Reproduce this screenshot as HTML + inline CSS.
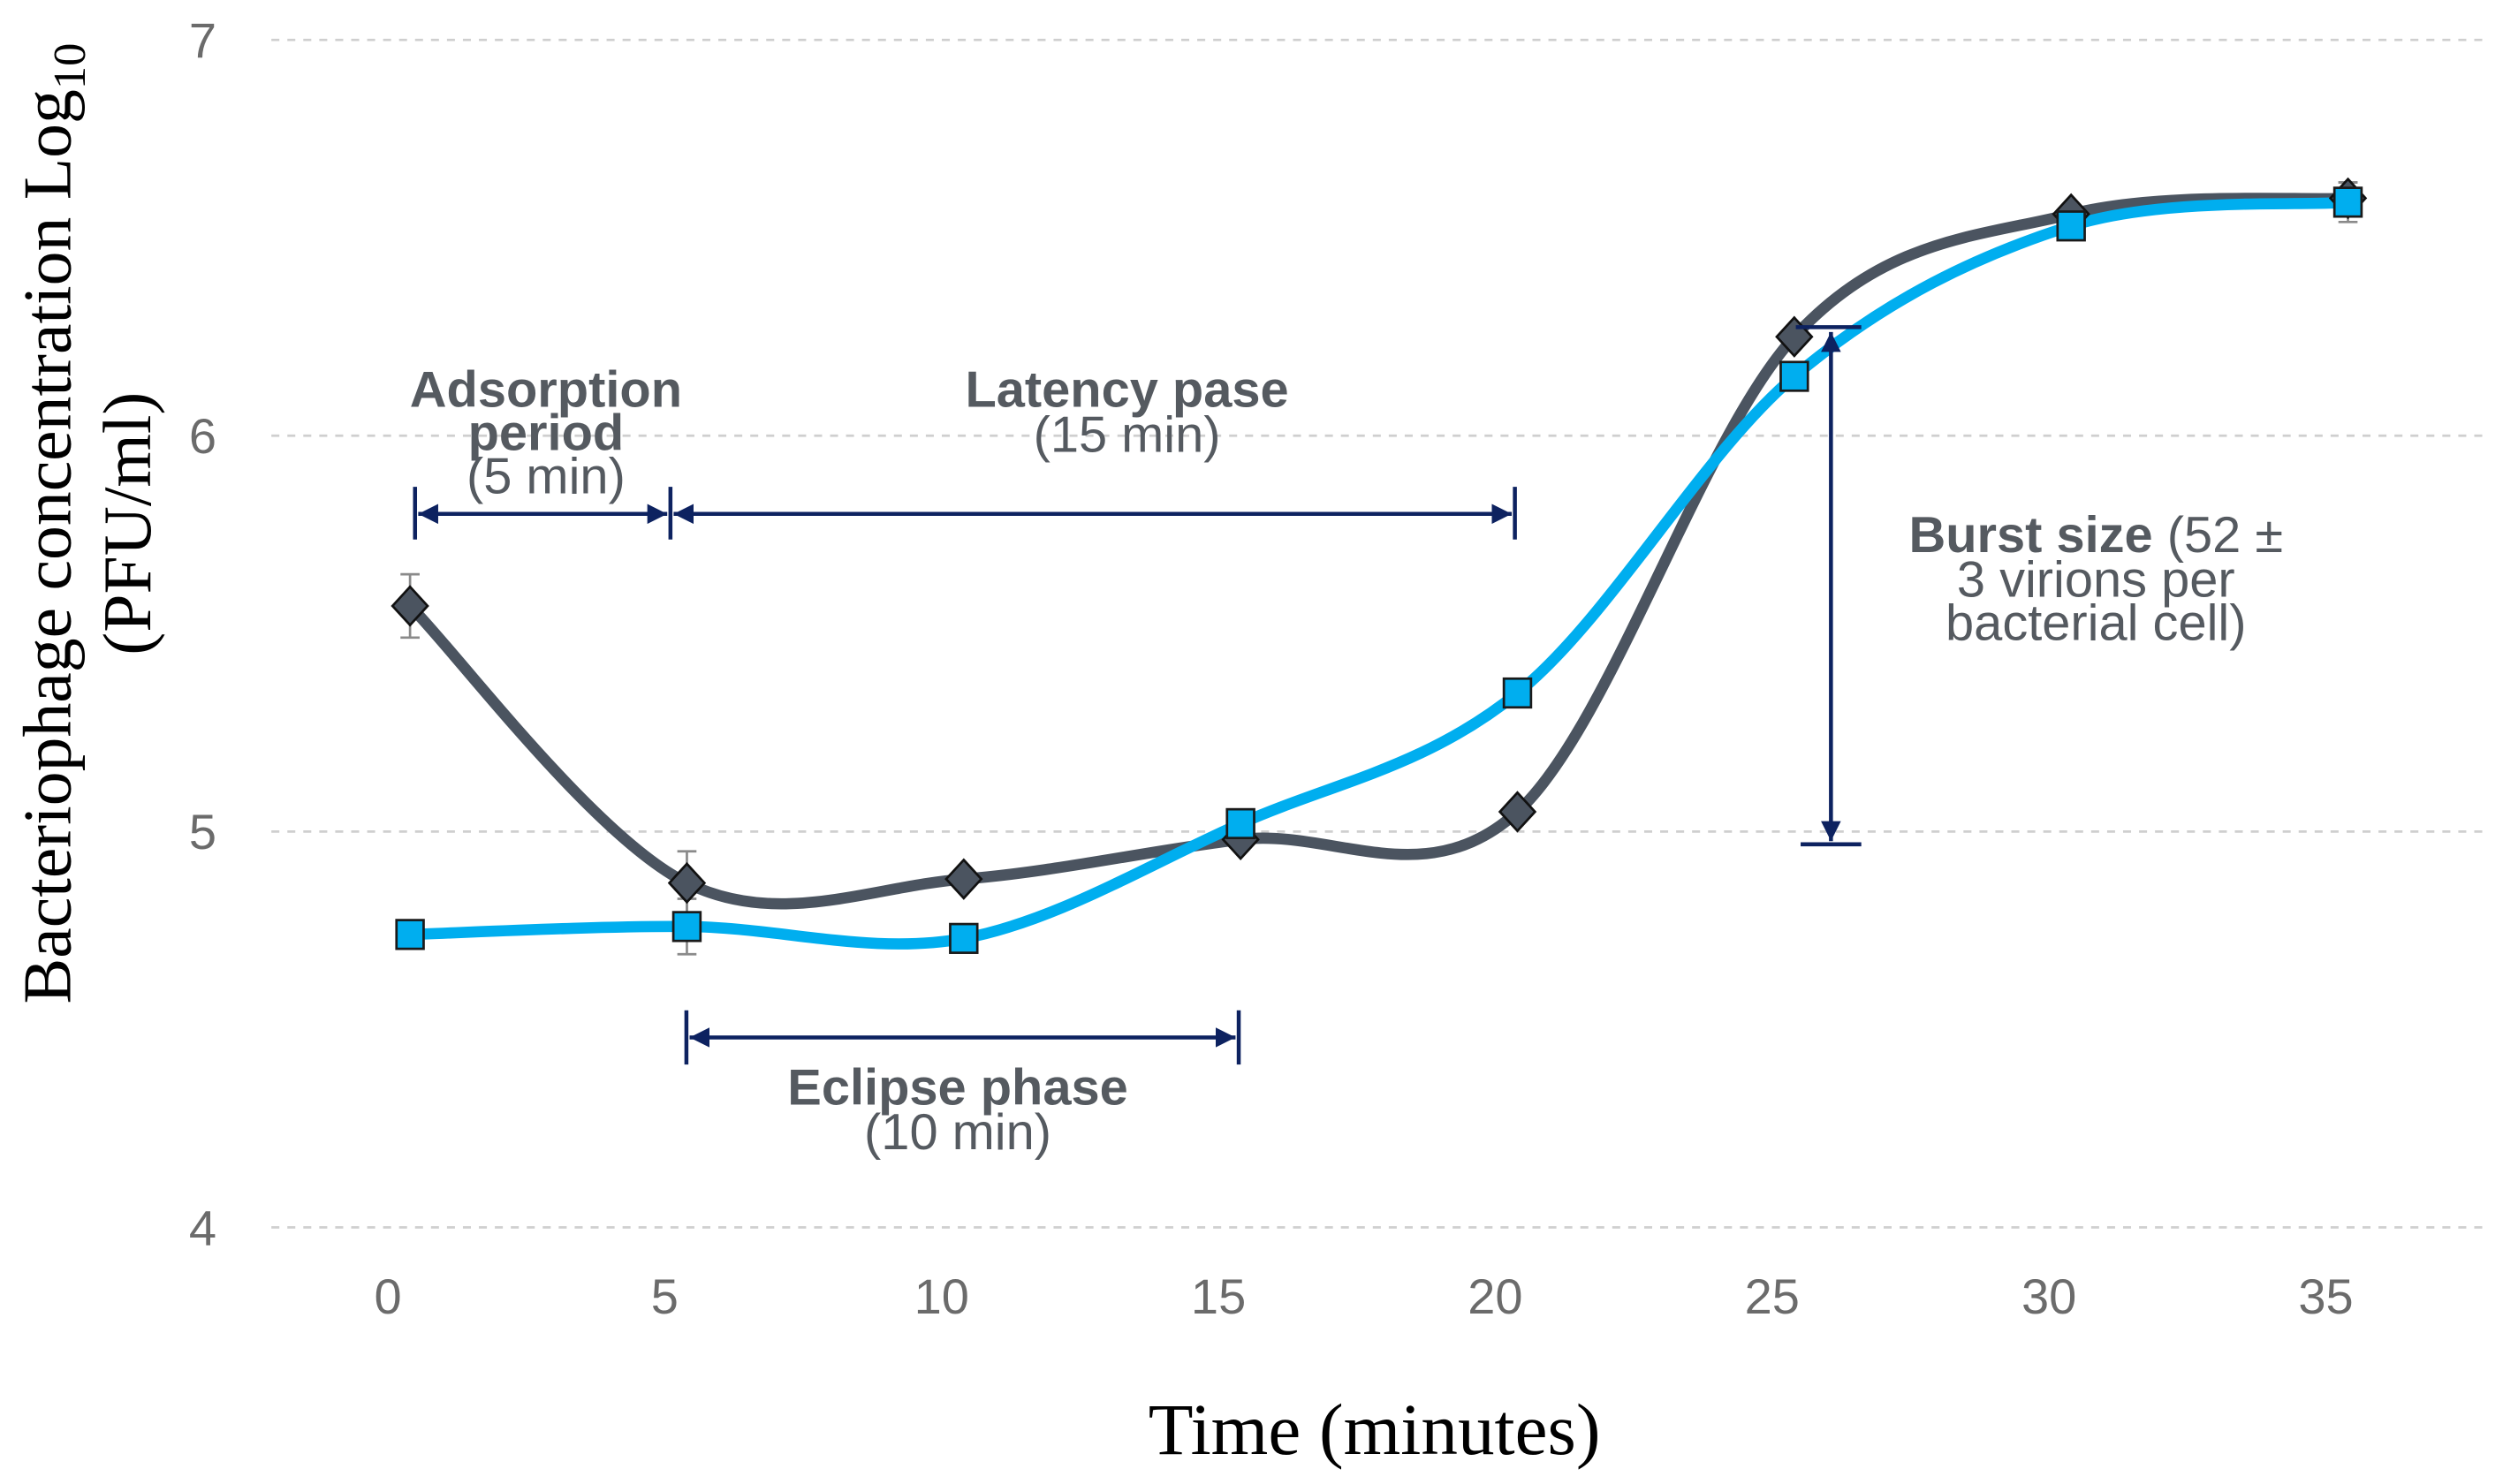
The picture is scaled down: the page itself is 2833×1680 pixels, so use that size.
<!DOCTYPE html>
<html><head><meta charset="utf-8"><style>
html,body{margin:0;padding:0;background:#fff;}
svg{display:block;}
.tick{font-family:"Liberation Sans",sans-serif;font-size:31px;fill:#6b6b6b;}
.ann{font-family:"Liberation Sans",sans-serif;font-size:32px;fill:#555a60;}
.ttl{font-family:"Liberation Serif",serif;fill:#000;}
</style></head><body>
<svg id="chart" width="2833" height="1680" viewBox="0 0 1568 929.8" preserveAspectRatio="none" xmlns="http://www.w3.org/2000/svg">
<defs>
<marker id="ah" viewBox="0 0 10 10" refX="10" refY="5" markerWidth="5" markerHeight="5" orient="auto-start-reverse"><path d="M0,0L10,5L0,10z" fill="#0d2260"/></marker>
</defs>
<g id="grid"></g>
<g id="yticks"></g>
<g id="xticks"></g>
<g>
<text class="ttl" transform="translate(44,328) rotate(-90)" text-anchor="middle" font-size="43">Bacteriophage concentration Log<tspan font-size="29" dy="9">10</tspan></text>
<text class="ttl" transform="translate(94,328) rotate(-90)" text-anchor="middle" font-size="43">(PFU/ml)</text>
</g>
<text class="ttl" x="861" y="911" text-anchor="middle" font-size="46">Time (minutes)</text>
<g id="series"></g>
<g stroke="#0d2260" stroke-width="2.5" fill="none">
<line x1="260" y1="305" x2="260" y2="338"/><line x1="420" y1="305" x2="420" y2="338"/><line x1="949" y1="305" x2="949" y2="338"/>
<line x1="262" y1="322" x2="418" y2="322" marker-start="url(#ah)" marker-end="url(#ah)"/>
<line x1="422" y1="322" x2="947" y2="322" marker-start="url(#ah)" marker-end="url(#ah)"/>
<line x1="430" y1="633" x2="430" y2="667"/><line x1="776" y1="633" x2="776" y2="667"/>
<line x1="432" y1="650" x2="774" y2="650" marker-start="url(#ah)" marker-end="url(#ah)"/>
<line x1="1125" y1="205" x2="1166" y2="205"/><line x1="1128" y1="529" x2="1166" y2="529"/>
<line x1="1147" y1="208" x2="1147" y2="527" marker-start="url(#ah)" marker-end="url(#ah)"/>
</g>
<g>
<text class="ann" x="342" y="255" text-anchor="middle" font-weight="bold">Adsorption</text>
<text class="ann" x="342" y="282" text-anchor="middle" font-weight="bold">period</text>
<text class="ann" x="342" y="309" text-anchor="middle">(5 min)</text>
<text class="ann" x="706" y="255" text-anchor="middle" font-weight="bold">Latency pase</text>
<text class="ann" x="706" y="283" text-anchor="middle">(15 min)</text>
<text class="ann" x="600" y="692" text-anchor="middle" font-weight="bold">Eclipse phase</text>
<text class="ann" x="600" y="720" text-anchor="middle">(10 min)</text>
<text class="ann" x="1313" y="346" text-anchor="middle"><tspan font-weight="bold">Burst size</tspan> (52 ±</text>
<text class="ann" x="1313" y="374" text-anchor="middle">3 virions per</text>
<text class="ann" x="1313" y="401" text-anchor="middle">bacterial cell)</text>
</g>
</svg>
<script>
const times=[0.4,5.4,10.4,15.4,20.4,25.4,30.4,35.4];
const darkVals=[5.57,4.87,4.88,4.98,5.05,6.25,6.56,6.60];
const blueVals=[4.74,4.76,4.73,5.02,5.35,6.15,6.53,6.59];
const darkErr=[0.08,0.08,0,0,0,0,0,0.04];
const blueErr=[0,0.07,0,0,0,0,0,0.05];
const yTicks=[4,5,6,7];
const xTicks=[0,5,10,15,20,25,30,35];
const NS='http://www.w3.org/2000/svg';
const X=t=>243+t*34.686;
const Y=v=>25+(7-v)*248;
function mk(tag,attrs,parent){const e=document.createElementNS(NS,tag);for(const k in attrs)e.setAttribute(k,attrs[k]);parent.appendChild(e);return e;}
const grid=document.getElementById('grid'),yt=document.getElementById('yticks'),xt=document.getElementById('xticks'),ser=document.getElementById('series');
yTicks.forEach(v=>{
 const l=mk('line',{x1:170,x2:1557,y1:Y(v),y2:Y(v),stroke:'#cfcfcf','stroke-width':1.5,'stroke-dasharray':'5 5'},grid);
 
 
 const t=mk('text',{x:127,y:Y(v)+11,'text-anchor':'middle',class:'tick'},yt);t.textContent=v;
 
 
});
xTicks.forEach(v=>{
 const t=mk('text',{x:X(v),y:823,'text-anchor':'middle',class:'tick'},xt);t.textContent=v;
 
 
});
function spline(vals){
 const p=times.map((t,i)=>[X(t),Y(vals[i])]);
 let d='M'+p[0][0]+','+p[0][1];
 for(let i=0;i<p.length-1;i++){
  const p0=p[i-1]||p[i],p1=p[i],p2=p[i+1],p3=p[i+2]||p2;const k=6;
  d+=` C${p1[0]+(p2[0]-p0[0])/k},${p1[1]+(p2[1]-p0[1])/k} ${p2[0]-(p3[0]-p1[0])/k},${p2[1]-(p3[1]-p1[1])/k} ${p2[0]},${p2[1]}`;
 }
 return d;
}
function errs(vals,e,name){
 vals.forEach((v,i)=>{if(!e[i])return;const x=X(times[i]);
  const g=mk('g',{stroke:'#8a8a8a','stroke-width':1.5},ser);
  
  
  mk('line',{x1:x,x2:x,y1:Y(v+e[i]),y2:Y(v-e[i])},g);
  mk('line',{x1:x-6,x2:x+6,y1:Y(v+e[i]),y2:Y(v+e[i])},g);
  mk('line',{x1:x-6,x2:x+6,y1:Y(v-e[i]),y2:Y(v-e[i])},g);
 });
}
errs(darkVals,darkErr,'dark');errs(blueVals,blueErr,'blue');
const dl=mk('path',{d:spline(darkVals),fill:'none',stroke:'#4b5460','stroke-width':7,'stroke-linecap':'round'},ser);


const bl=mk('path',{d:spline(blueVals),fill:'none',stroke:'#00aeef','stroke-width':7,'stroke-linecap':'round'},ser);


darkVals.forEach((v,i)=>{const x=X(times[i]),y=Y(v);
 const m=mk('path',{d:`M${x},${y-12}L${x+11},${y}L${x},${y+12}L${x-11},${y}Z`,fill:'#4b5460',stroke:'#111','stroke-width':1.5},ser);
 
 
});
blueVals.forEach((v,i)=>{const x=X(times[i]),y=Y(v);
 const m=mk('rect',{x:x-8.5,y:y-9,width:17,height:18,fill:'#00aeef',stroke:'#1a1a1a','stroke-width':1.5},ser);
 
 
});
</script>
</body></html>
